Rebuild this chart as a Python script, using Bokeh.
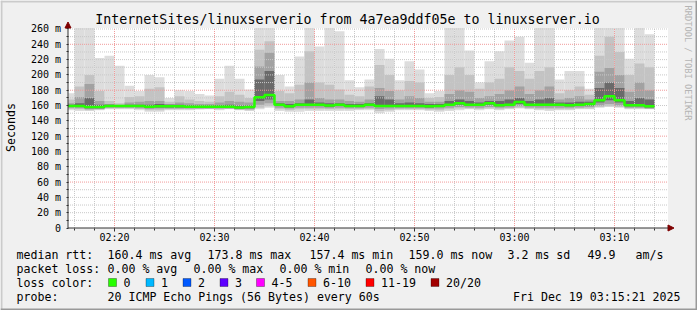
from math import pi
import numpy as np
from bokeh.plotting import figure
from bokeh.models import FixedTicker, Label, BoxAnnotation, Arrow, NormalHead
from bokeh.embed import file_html
from bokeh.resources import INLINE

# ---------------- data (minutes after 02:00, each step ends at minute_end) -------------
minute_end = list(range(16, 75))
ping_max = [176, 270, 270, 222, 225, 212, 186, 179, 200, 197,
            170, 180, 179, 175, 173, 195, 212, 195, 181, 270,
            270, 200, 185, 224, 270, 237, 270, 257, 193, 184,
            194, 234, 221, 193, 218, 207, 176, 179, 270, 270,
            232, 190, 218, 231, 245, 250, 216, 270, 270, 194,
            205, 205, 182, 270, 270, 270, 221, 270, 253]
ping_hi_b = [168, 185, 200, 179, 166, 163, 171, 172, 182, 184,
             165, 172, 168, 166, 165, 172, 178, 174, 170, 233,
             244, 179, 176, 187, 231, 190, 187, 181, 174, 172,
             185, 213, 200, 180, 192, 190, 170, 171, 200, 210,
             200, 182, 190, 195, 210, 205, 195, 205, 210, 176,
             180, 185, 174, 225, 250, 230, 200, 215, 210]
ping_hi_c = [163, 171, 188, 166, 162, 161, 164, 165, 166, 166,
             162, 164, 163, 162, 162, 164, 166, 165, 164, 211,
             229, 166, 166, 168, 190, 170, 168, 168, 166, 165,
             168, 183, 179, 168, 172, 170, 165, 165, 175, 180,
             178, 170, 172, 175, 180, 185, 175, 180, 185, 168,
             170, 172, 168, 204, 209, 200, 178, 190, 180]
ping_hi_d = [161, 163, 170, 161, 161, 160.5, 161, 161, 161, 162,
             161, 161, 160.5, 160, 160, 160.5, 161, 160, 160, 194,
             205, 163, 162, 163, 168, 164, 163, 163, 162, 162,
             163, 172, 168, 163, 164, 163, 162, 162, 166, 168,
             166, 164, 166, 166, 168, 170, 166, 168, 170, 164,
             164, 165, 165, 183, 190, 183, 166, 170, 168]
median_rtt = [159.5, 159.5, 158, 158, 159.5, 159.5, 159.5, 159.5, 158.5, 159,
              159, 159, 158.5, 158.5, 158.5, 158.5, 158.5, 157.4, 158, 170.7,
              173.8, 161, 159, 161, 161, 161, 160, 161, 159.5, 159.5,
              161, 159.5, 159.5, 159.5, 159.5, 159.5, 159, 159.5, 161, 163,
              161, 161, 163, 160.5, 161, 164.5, 161, 161, 161, 161,
              160.5, 161, 162, 167, 172, 167, 160.5, 160.5, 159]
ping_lo_d = [158, 158, 156.5, 156.5, 158, 158, 158, 158, 157, 157.5,
             157.5, 157.5, 157, 157, 157, 157, 157, 156, 156.5, 166,
             168, 159.5, 157.5, 159.5, 159.5, 159.5, 158.5, 159.5, 158, 158,
             159.5, 158, 158, 158, 158, 158, 157.5, 158, 159.5, 161,
             159.5, 159.5, 161, 159, 159.5, 162, 159.5, 159.5, 159.5, 159.5,
             159, 159.5, 160, 164, 167, 164, 159, 159, 157.5]
ping_lo_c = [157, 156.5, 155, 155.5, 157, 157, 157, 156.5, 155.5, 156,
             156, 156, 156, 156, 156, 156, 156, 155, 155, 161,
             163, 157, 156, 157, 157, 157, 156.5, 157, 156.5, 156.5,
             157, 155.5, 156, 156.5, 156.5, 156.5, 156, 156, 157, 158,
             157.5, 157, 158, 157, 157.5, 159, 157.5, 157, 157, 157,
             157, 157.5, 158, 160, 162, 160, 157, 157, 156]
ping_lo_b = [155.5, 155, 154, 154.5, 156, 156, 156, 155.5, 154, 154,
             155, 155, 155, 155, 155.5, 155, 155.5, 154.5, 154, 157,
             159, 155, 154, 155, 155, 155, 155, 155, 155, 155,
             155.5, 153, 154, 155, 155, 155, 154.5, 154, 155, 156,
             156, 155.5, 156, 155, 156, 157, 156, 155, 155, 155,
             155, 156, 156, 158, 159, 158, 156, 156, 155.5]
ping_min = [154, 153, 153, 154, 155, 155, 155, 154, 152, 152,
            154, 154, 154, 155, 155, 154, 155, 154, 153, 155,
            157, 153, 152, 152, 153, 153, 153, 153, 153, 154,
            154, 150, 152, 154, 154, 154, 153, 152, 153, 154,
            155, 154, 155, 154, 155, 156, 155, 154, 153, 154,
            154, 155, 155, 157, 158, 157, 155, 155, 155]

y_ticks = list(range(0, 261, 20))
y_minor = list(range(10, 261, 20))
y_labels = {v: ("0" if v == 0 else f"{v} m") for v in y_ticks}
x_ticks = [20, 30, 40, 50, 60, 70]
x_labels = ["02:20", "02:30", "02:40", "02:50", "03:00", "03:10"]
x_minor = list(range(16, 75, 2))
grid_major_y = [60, 120, 180, 240]
grid_minor_y = [v for v in range(10, 261, 10) if v % 60 != 0]

title = "InternetSites/linuxserverio from 4a7ea9ddf05e to linuxserver.io"
legend_rows = [
    [("median rtt:", 16), ("160.4 ms avg", 107), ("173.8 ms max", 207), ("157.4 ms min", 309),
     ("159.0 ms now", 408), ("3.2 ms sd", 507), ("49.9", 587), ("am/s", 635)],
    [("packet loss:", 16), ("0.00 % avg", 107), ("0.00 % max", 193), ("0.00 % min", 279),
     ("0.00 % now", 365)],
    [("loss color:", 16)],
    [("probe:", 16), ("20 ICMP Echo Pings (56 Bytes) every 60s", 107)],
]
loss_labels = ["0", "1", "2", "3", "4-5", "6-10", "11-19", "20/20"]
loss_colors = ["#26ff00", "#00b8ff", "#0059ff", "#5e00ff", "#ff00ff", "#ff5500", "#ff0000", "#a10000"]
loss_box_x = [108, 145.5, 182.5, 219.5, 256, 307.5, 365.5, 430.5]
stamp = "Fri Dec 19 03:15:21 2025"

# ---------------- geometry: the frame covers the whole canvas ----------------
W, H = 697, 310
AX_PX = 67.5               # pixel column of the y axis
BASE_PY = 227.5            # pixel row of the x axis
X_START = 15.35            # 02:15:21
X_END = X_START + 60
Y_MAX = 261.3
MSPX = Y_MAX / 200.0
x_lo = X_START - AX_PX / 10.0
x_hi = x_lo + W / 10.0
y_lo = -(H - BASE_PY) * MSPX
y_hi = y_lo + H * MSPX

def dx(px):
    return x_lo + px / 10.0

def dy(py):
    return y_lo + (H - py) * MSPX

BACK = "#f0f0f0"
AXIS = "#303030"
ARROW = "#7f0000"
MONO = "DejaVu Sans Mono"

p = figure(width=W, height=H, output_backend="svg", toolbar_location=None,
           x_range=(x_lo, x_hi), y_range=(y_lo, y_hi), min_border=0)
p.background_fill_color = BACK
p.border_fill_color = BACK
p.outline_line_color = None
p.grid.visible = False

# frame shading
p.add_layout(BoxAnnotation(left=dx(0), right=dx(W), bottom=dy(2), top=dy(0), fill_color="#cbcbcb", fill_alpha=1, line_color=None))
p.add_layout(BoxAnnotation(left=dx(0), right=dx(2), bottom=dy(H), top=dy(0), fill_color="#cbcbcb", fill_alpha=1, line_color=None))
p.add_layout(BoxAnnotation(left=dx(0), right=dx(W), bottom=dy(H), top=dy(H - 2), fill_color="#999999", fill_alpha=1, line_color=None))
p.add_layout(BoxAnnotation(left=dx(W - 2), right=dx(W), bottom=dy(H), top=dy(0), fill_color="#999999", fill_alpha=1, line_color=None))

# canvas
p.quad(left=[X_START], right=[X_END], bottom=[0], top=[Y_MAX], fill_color="white", line_color=None)

left = [max(m - 1, X_START) for m in minute_end]
right = minute_end
for bot, top, col in [(ping_min, ping_max, "#dddddd"),
                      (ping_lo_b, ping_hi_b, "#c3c3c3"),
                      (ping_lo_c, ping_hi_c, "#a2a2a2"),
                      (ping_lo_d, ping_hi_d, "#6a6a6a")]:
    p.quad(left=left, right=right, bottom=bot, top=np.minimum(top, Y_MAX),
           fill_color=col, line_color=None)

# grid
p.segment(x0=X_START, x1=X_END, y0=grid_minor_y, y1=grid_minor_y, line_color="#c8c8c8", line_dash="1 1", line_width=1)
xm = [v for v in x_minor if v % 10 != 0]
p.segment(x0=xm, x1=xm, y0=0, y1=Y_MAX, line_color="#c8c8c8", line_dash="1 1", line_width=1)
p.segment(x0=X_START, x1=X_END, y0=grid_major_y, y1=grid_major_y, line_color="#f09a9a", line_dash="1 1", line_width=1)
p.segment(x0=x_ticks, x1=x_ticks, y0=0, y1=Y_MAX, line_color="#f09a9a", line_dash="1 1", line_width=1)

# median
p.step(x=left + [minute_end[-1]], y=median_rtt + [median_rtt[-1]], mode="after",
       line_color=loss_colors[0], line_width=2.5)

# axes (placed at fixed data locations inside the full-canvas frame)
p.xaxis[0].fixed_location = 0
p.yaxis[0].fixed_location = X_START
for ax in (p.xaxis[0], p.yaxis[0]):
    ax.axis_line_color = None
    ax.major_tick_line_color = AXIS
    ax.minor_tick_line_color = AXIS
    ax.major_tick_in = 0
    ax.minor_tick_in = 0
    ax.major_label_text_font = MONO
    ax.major_label_text_font_size = "10px"
    ax.major_label_text_color = "black"
p.xaxis[0].ticker = FixedTicker(ticks=x_ticks, minor_ticks=x_minor)
p.xaxis[0].major_label_overrides = dict(zip(x_ticks, x_labels))
p.xaxis[0].major_tick_out = 3
p.xaxis[0].minor_tick_out = 2
p.xaxis[0].major_label_standoff = 1
p.yaxis[0].ticker = FixedTicker(ticks=y_ticks, minor_ticks=y_minor)
p.yaxis[0].major_label_overrides = y_labels
p.yaxis[0].major_tick_out = 2
p.yaxis[0].minor_tick_out = 2
p.yaxis[0].major_label_standoff = 5

p.add_layout(Arrow(x_start=X_START, y_start=0, x_end=X_START, y_end=dy(21.5),
                   line_color=AXIS, line_width=1,
                   end=NormalHead(size=6, fill_color=ARROW, line_color=ARROW, line_width=1)))
p.add_layout(Arrow(x_start=X_START, y_start=0, x_end=dx(673.5), y_end=0,
                   line_color=AXIS, line_width=1,
                   end=NormalHead(size=6, fill_color=ARROW, line_color=ARROW, line_width=1)))

# texts
def txt(px, py, s, size, align="left", angle=0.0, color="black"):
    p.add_layout(Label(x=dx(px), y=dy(py), text=s, text_font=MONO, text_font_size=size,
                       text_align=align, text_baseline="middle", angle=angle, text_color=color))

txt(347, 19, title, "13.3px", align="center")
txt(10, 127, "Seconds", "11.6px", align="center", angle=pi / 2)
txt(687, 5, "RRDTOOL / TOBI OETIKER", "8.7px", align="left", angle=-pi / 2, color="#b4b4b4")
row_y = [254, 268, 282, 296]
for ry, row in zip(row_y, legend_rows):
    for s, px in row:
        txt(px, ry, s, "11.6px")
for bx, lab, col in zip(loss_box_x, loss_labels, loss_colors):
    p.add_layout(BoxAnnotation(left=dx(bx), right=dx(bx + 8), bottom=dy(286), top=dy(278),
                               fill_color=col, fill_alpha=1, line_color="black", line_width=1))
    txt(bx + 15, 282, lab, "11.6px")
txt(680, 296, stamp, "11.6px", align="right")

open("out.html", "w").write(file_html(p, INLINE))
